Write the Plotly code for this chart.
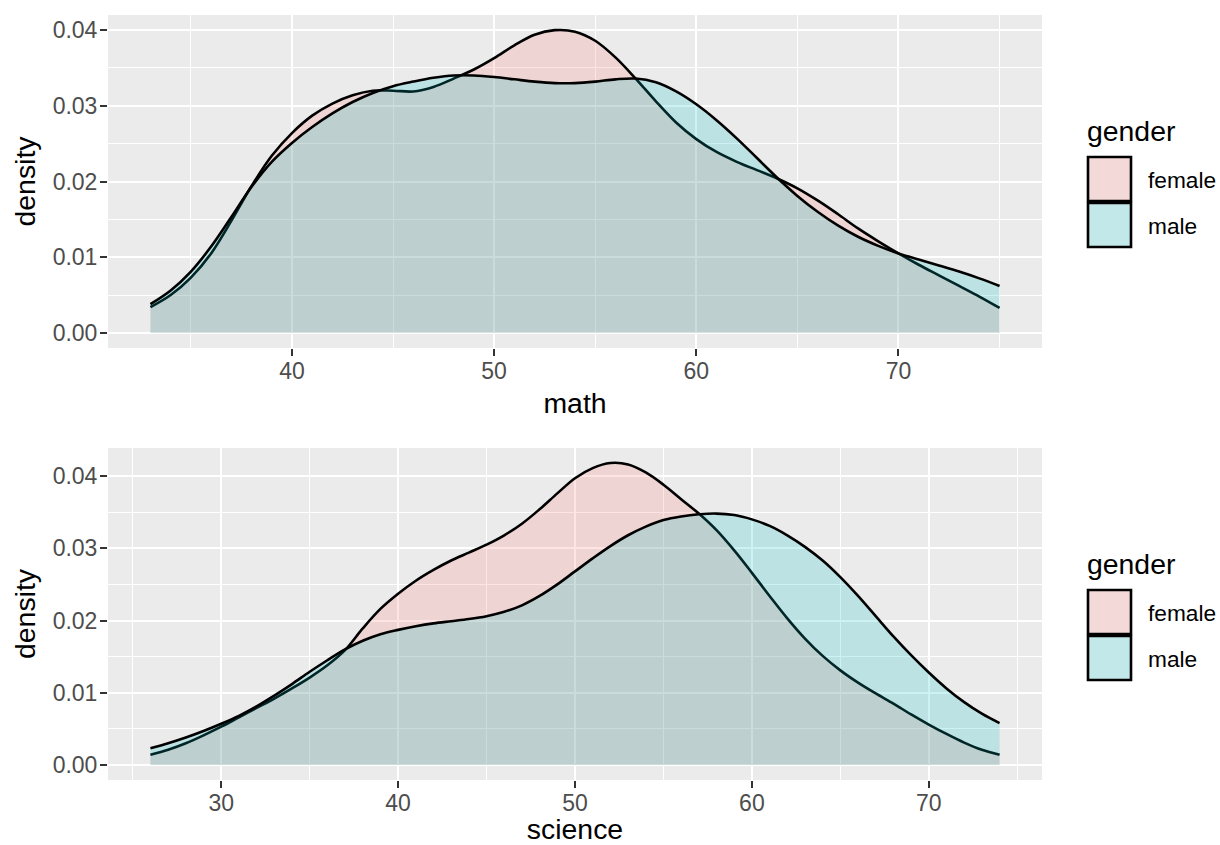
import plotly.graph_objects as go
from plotly.subplots import make_subplots

# ---------------- data ----------------
math_x = list(range(33, 76))
math_female = [0.0034, 0.0050, 0.0073, 0.0105, 0.0148, 0.0194, 0.0234, 0.0264, 0.0287, 0.0303,
               0.0314, 0.0320, 0.0320, 0.0319, 0.0325, 0.0336, 0.0348, 0.0363, 0.0380, 0.0394,
               0.0400, 0.0398, 0.0386, 0.0364, 0.0336, 0.0306, 0.0278, 0.0256, 0.0239, 0.0226,
               0.0215, 0.0204, 0.0191, 0.0175, 0.0157, 0.0138, 0.0121, 0.0105, 0.0090, 0.0076,
               0.0062, 0.0048, 0.0033]
math_male = [0.0038, 0.0056, 0.0081, 0.0114, 0.0153, 0.0193, 0.0226, 0.0251, 0.0272, 0.0290,
             0.0305, 0.0317, 0.0326, 0.0332, 0.0337, 0.0340, 0.0340, 0.0338, 0.0335, 0.0332,
             0.0330, 0.0330, 0.0332, 0.0335, 0.0336, 0.0331, 0.0319, 0.0302, 0.0281, 0.0257,
             0.0231, 0.0205, 0.0181, 0.0160, 0.0142, 0.0127, 0.0115, 0.0105, 0.0097, 0.0089,
             0.0081, 0.0072, 0.0062]

sci_x = list(range(26, 75))
sci_female = [0.0014, 0.0021, 0.0030, 0.0041, 0.0053, 0.0066, 0.0079, 0.0092, 0.0106, 0.0121,
              0.0138, 0.0159, 0.0189, 0.0216, 0.0237, 0.0255, 0.0270, 0.0283, 0.0294, 0.0305,
              0.0318, 0.0334, 0.0354, 0.0376, 0.0397, 0.0411, 0.0418, 0.0416, 0.0405, 0.0388,
              0.0368, 0.0348, 0.0325, 0.0297, 0.0266, 0.0234, 0.0203, 0.0175, 0.0151, 0.0131,
              0.0114, 0.0099, 0.0085, 0.0070, 0.0056, 0.0043, 0.0031, 0.0021, 0.0014]
sci_male = [0.0023, 0.0030, 0.0038, 0.0047, 0.0057, 0.0068, 0.0081, 0.0096, 0.0112, 0.0129,
            0.0145, 0.0160, 0.0172, 0.0181, 0.0187, 0.0192, 0.0196, 0.0199, 0.0202, 0.0206,
            0.0212, 0.0221, 0.0234, 0.0250, 0.0268, 0.0286, 0.0303, 0.0318, 0.0330, 0.0339,
            0.0344, 0.0347, 0.0348, 0.0346, 0.0340, 0.0331, 0.0318, 0.0302, 0.0283, 0.0260,
            0.0234, 0.0206, 0.0178, 0.0152, 0.0128, 0.0106, 0.0087, 0.0071, 0.0058]

groups = ["female", "male"]
legend_title = "gender"
y_ticks = [0.00, 0.01, 0.02, 0.03, 0.04]
y_ticktext = ["0.00", "0.01", "0.02", "0.03", "0.04"]
math_ticks = [40, 50, 60, 70]
sci_ticks = [30, 40, 50, 60, 70]

# ---------------- style ----------------
FONT = "Liberation Sans, Arial, Helvetica, sans-serif"
FILLS = {"female": "rgba(248,118,109,0.2)", "male": "rgba(0,191,196,0.2)"}
KEYFILL = {"female": "#F3D9D7", "male": "#C2E8E9"}
W, H = 1220, 845
ML, MT = 108, 15
PW, PH = 934, 765
MR, MB = W - ML - PW, H - MT - PH


def px(x):  # page pixel -> paper x
    return (x - ML) / PW


def py(y):  # page pixel -> paper y
    return (MT + PH - y) / PH


fig = make_subplots(rows=2, cols=1, vertical_spacing=0.0)

panels = [
    (1, math_x, {"female": math_female, "male": math_male}),
    (2, sci_x, {"female": sci_female, "male": sci_male}),
]
for row, xs, series in panels:
    for g in groups:
        fig.add_trace(go.Scatter(
            x=xs, y=series[g], mode="lines", name=g,
            line=dict(color="black", width=2.6, shape="spline", smoothing=1.0),
            fill="tozeroy", fillcolor=FILLS[g], showlegend=False,
            hoverinfo="skip"), row=row, col=1)

axis_common = dict(
    showgrid=True, gridcolor="white", gridwidth=2.2,
    ticks="outside", ticklen=7, tickwidth=2, tickcolor="#333333",
    tickfont=dict(family=FONT, size=23, color="#4D4D4D"),
    zeroline=False, showline=False,
    title_font=dict(family=FONT, size=28.4, color="black"),
)

fig.update_xaxes(**axis_common, ticklabelstandoff=-5)
fig.update_yaxes(**axis_common, ticklabelstandoff=-2)

minor_y = dict(tickvals=[0.005, 0.015, 0.025, 0.035], showgrid=True,
               gridcolor="white", gridwidth=1.1)
fig.update_layout(
    xaxis=dict(domain=[0, 1], range=[30.9, 77.1], tickvals=math_ticks,
               minor=dict(tickvals=[35, 45, 55, 65, 75], showgrid=True,
                          gridcolor="white", gridwidth=1.1),
               title=dict(text="math", standoff=10)),
    yaxis=dict(domain=[1 - 333 / PH, 1.0], range=[-0.0020, 0.0420],
               tickvals=y_ticks, ticktext=y_ticktext, minor=minor_y,
               title=dict(text="density", standoff=8)),
    xaxis2=dict(domain=[0, 1], range=[23.6, 76.4], tickvals=sci_ticks,
                minor=dict(tickvals=[25, 35, 45, 55, 65, 75], showgrid=True,
                           gridcolor="white", gridwidth=1.1),
                title=dict(text="science", standoff=10)),
    yaxis2=dict(domain=[0.0, 332 / PH], range=[-0.00208, 0.04388],
                tickvals=y_ticks, ticktext=y_ticktext, minor=minor_y,
                title=dict(text="density", standoff=8)),
    width=W, height=H,
    margin=dict(l=ML, r=MR, t=MT, b=MB, autoexpand=False),
    paper_bgcolor="white", plot_bgcolor="#EBEBEB",
    font=dict(family=FONT),
)

# ---------------- legends (one per panel) ----------------
shapes = []
annotations = []
for shift in (0, 433):
    annotations.append(dict(
        text=legend_title, xref="paper", yref="paper",
        x=px(1085), y=py(131 + shift), xanchor="left", yanchor="middle",
        showarrow=False, font=dict(family=FONT, size=28.4, color="black")))
    for i, g in enumerate(groups):
        top = 157 + i * 46 + shift
        shapes.append(dict(
            type="rect", xref="paper", yref="paper",
            x0=px(1088), x1=px(1131), y0=py(top), y1=py(top + 44),
            fillcolor=KEYFILL[g], line=dict(color="black", width=2.6)))
        annotations.append(dict(
            text=g, xref="paper", yref="paper",
            x=px(1146), y=py(top + 23), xanchor="left", yanchor="middle",
            showarrow=False, font=dict(family=FONT, size=22.7, color="black")))

fig.update_layout(shapes=shapes, annotations=annotations)

fig.write_html(
    "out.html",
    config={"displayModeBar": False},
    post_script="document.body.style.margin='0';document.body.style.overflow='hidden';",
)
